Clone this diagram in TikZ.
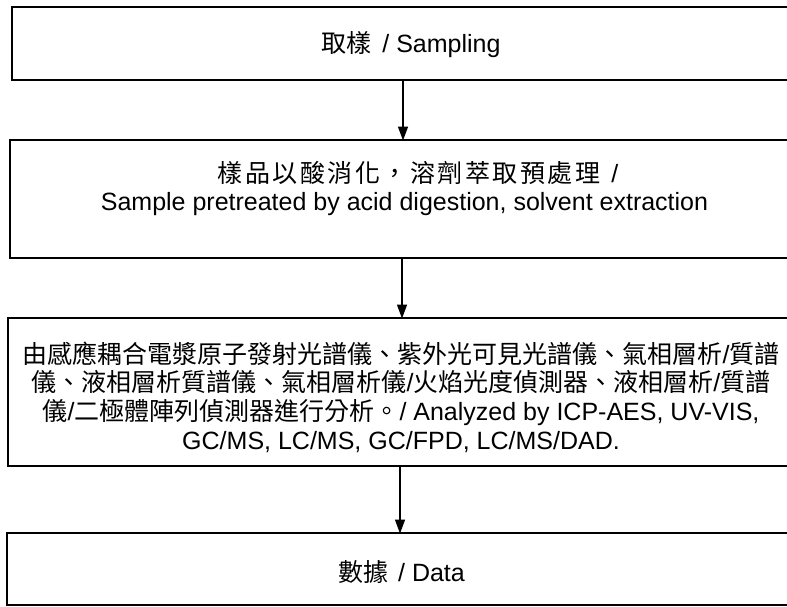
\documentclass[tikz,border=0pt]{standalone}
\usepackage{fontspec}
\setmainfont{Liberation Sans}
\newfontfamily\cjk{Noto Sans CJK TC}
\newfontfamily\cjkwide[LetterSpace=10]{Noto Sans CJK TC}
\usetikzlibrary{arrows.meta}
\tikzset{
  box/.style={draw=black, line width=1.6pt, inner sep=0pt, outer sep=0pt},
  txt/.style={inner sep=0pt, align=center, font=\fontsize{25}{29}\selectfont},
  arr/.style={line width=1.5pt, -{Triangle[length=14pt,width=10pt]}, shorten >=-0.5pt},
}
\begin{document}
\begin{tikzpicture}[x=1pt,y=-1pt]
\useasboundingbox (0,0) rectangle (787,606);
\clip (0,0) rectangle (787,606);
% boxes
\node[box, minimum width=798pt, minimum height=73pt] (b1) at (411,43.5) {};
\node[box, minimum width=790pt, minimum height=118pt] (b2) at (405,199) {};
\node[box, minimum width=787pt, minimum height=148pt] (b3) at (401.5,392) {};
\node[box, minimum width=789pt, minimum height=72pt] (b4) at (401.5,569) {};
% texts
\node[txt] (t1) at (411,45) {{\cjk 取樣}\hspace{4pt} / Sampling};
\node[txt] (t2a) at (418,173) {{\cjkwide 樣品以酸消化，溶劑萃取預處理}\hspace{4pt} /};
\node[txt] (t2b) at (404.5,204) {Sample pretreated by acid digestion, solvent extraction};
\node[txt, font=\fontsize{25}{28.7}\selectfont] (t3) at (401,397) {{\cjk 由感應耦合電漿原子發射光譜儀、紫外光可見光譜儀、氣相層析}/{\cjk 質譜}\\{\cjk 儀、液相層析質譜儀、氣相層析儀}/{\cjk 火焰光度偵測器、液相層析}/{\cjk 質譜}\\{\cjk 儀}/{\cjk 二極體陣列偵測器進行分析。}/ Analyzed by ICP-AES, UV-VIS,\\GC/MS, LC/MS, GC/FPD, LC/MS/DAD.};
\node[txt] (t4) at (401.5,572) {{\cjk 數據}\hspace{3pt} / Data};
% arrows
\coordinate (a1) at (403,0);
\coordinate (a2) at (402,0);
\coordinate (a3) at (400,0);
\draw[arr] (b1.south -| a1) -- (b2.north -| a1);
\draw[arr] (b2.south -| a2) -- (b3.north -| a2);
\draw[arr] (b3.south -| a3) -- (b4.north -| a3);
\end{tikzpicture}
\end{document}
